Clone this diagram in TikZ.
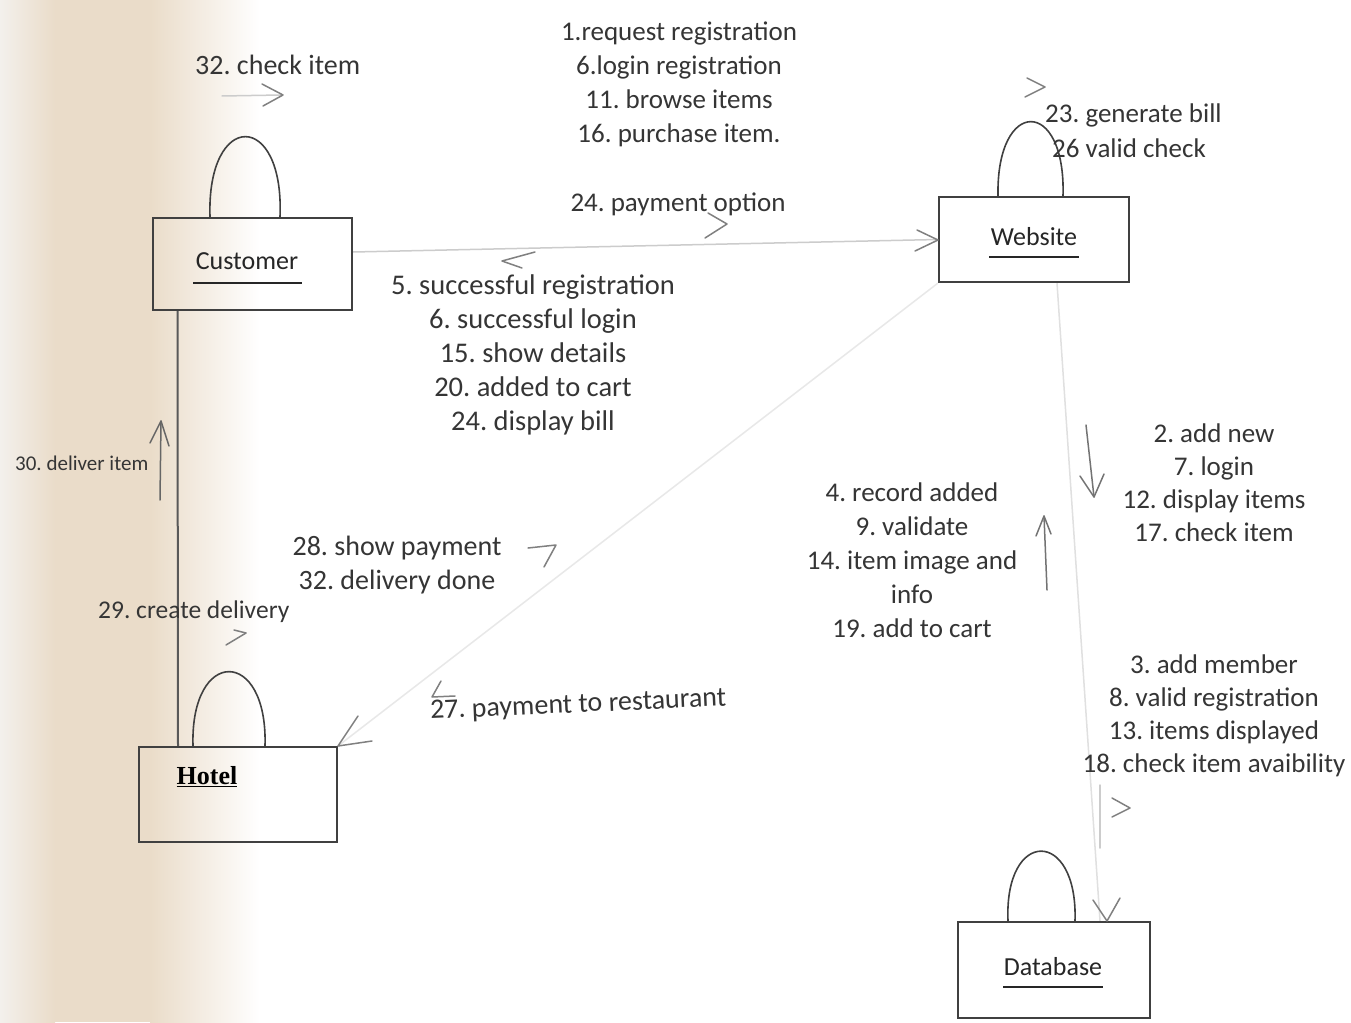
\documentclass[tikz,border=0pt]{standalone}
\usepackage{fontspec}
\setmainfont{Carlito}
\newfontfamily\hotelfont{Liberation Serif}
\usetikzlibrary{calc}
\frenchspacing
\definecolor{ink}{HTML}{353535}
\definecolor{boxline}{HTML}{404040}
\definecolor{beige}{HTML}{EADCC9}
\definecolor{paleleft}{HTML}{F3F0EC}
\begin{document}
\begin{tikzpicture}[x=1pt,y=-1pt,
  obj/.style={draw=boxline, line width=2.2pt, inner sep=0pt},
  lbl/.style={text=ink, font=\fontsize{27}{34}\selectfont, align=center, inner sep=0pt},
  namelbl/.style={text=black!85, font=\fontsize{26}{30}\selectfont, inner sep=0pt},
  selfloop/.style={draw=boxline, line width=1.6pt},
  faint/.style={draw=black!12, line width=1.5pt},
  darkline/.style={draw=black!65, line width=2pt},
  tipline/.style={draw=black!50, line width=1.5pt, line cap=round, line join=round},
  uline/.style={draw=black!85, line width=2.6pt}
]
\useasboundingbox (0,0) rectangle (1351,1022);
\fill[white] (0,0) rectangle (1351,1022);
\shade[left color=paleleft, right color=beige] (0,0) rectangle (55,1022);
\fill[beige] (55,0) rectangle (150,1022);
\shade[left color=beige, right color=white] (150,0) rectangle (260,1022);

% objects
\node[obj, minimum width=199pt, minimum height=92pt] (customer) at (252.5,264) {};
\node[obj, minimum width=190pt, minimum height=85pt] (website) at (1034,239.5) {};
\node[obj, minimum width=198pt, minimum height=95pt] (hotel) at (238,794.5) {};
\node[obj, minimum width=192pt, minimum height=96pt] (database) at (1054,970) {};

\node[namelbl] (customername) at (247,261) {Customer};
\draw[uline] (193,283) -- (302,283);
\node[namelbl] (websitename) at (1034,237) {Website};
\draw[uline] (989,257) -- (1079,257);
\node[namelbl] (databasename) at (1053,967) {Database};
\draw[uline, line width=2pt] (1003,987) -- (1103,987);
\node[text=black, font=\hotelfont\bfseries\fontsize{26}{30}\selectfont, inner sep=0pt] (hotelname) at (207,777) {\underline{Hotel}};

% connectors
\draw[faint, draw=black!20] ([yshift=12pt]customer.east) -- (website.west);
\draw[faint, draw=black!9] (hotel.north east) -- (website.south west);
\draw[faint] ([xshift=23pt]website.south) -- ([xshift=46pt]database.north);
\draw[darkline] ([xshift=-75pt]customer.south) -- ([xshift=-60pt]hotel.north);

% self loops
\draw[selfloop] ([xshift=-42.5pt]customer.north) .. controls ([xshift=-46pt,yshift=107pt]customer.north) and ([xshift=32pt,yshift=107pt]customer.north) .. ([xshift=27.5pt]customer.north);
\draw[selfloop] ([xshift=-36pt]website.north) .. controls ([xshift=-38pt,yshift=99pt]website.north) and ([xshift=32pt,yshift=99pt]website.north) .. ([xshift=29pt]website.north);
\draw[selfloop] ([xshift=-45pt]hotel.north) .. controls ([xshift=-48pt,yshift=99pt]hotel.north) and ([xshift=30pt,yshift=99pt]hotel.north) .. ([xshift=27pt]hotel.north);
\draw[selfloop] ([xshift=-46pt]database.north) .. controls ([xshift=-50pt,yshift=93pt]database.north) and ([xshift=24pt,yshift=93pt]database.north) .. ([xshift=21pt]database.north);

% message labels
\node[lbl] (m1) at (679,84) {1.request registration\\6.login registration\\11. browse items\\16. purchase item.};
\node[lbl] (m24) at (678,204) {24. payment option};
\node[lbl, font=\fontsize{28.5}{34}\selectfont] (m5) at (533,355) {5. successful registration\\6. successful login\\15. show details\\20. added to cart\\24. display bill};
\node[lbl] (m4) at (912,560) {4. record added\\9. validate\\14. item image and\\info\\19. add to cart};
\node[lbl, font=\fontsize{27}{33}\selectfont] (m2) at (1214,483) {2. add new\\7. login\\12. display items\\17. check item};
\node[lbl, font=\fontsize{27}{33}\selectfont] (m3) at (1214,716) {3. add member\\8. valid registration\\13. items displayed\\18. check item avaibility};
\node[lbl, font=\fontsize{28}{34}\selectfont] (m28) at (397,565) {28. show payment\\32. delivery done};
\node[lbl, anchor=west, rotate=2.5, font=\fontsize{28}{34}\selectfont] (m27) at (430,712) {27. payment to restaurant};
\node[lbl, anchor=west] (m23) at (1045,115) {23. generate bill};
\node[lbl, anchor=west] (m26) at (1052,148) {26 valid check};
\node[lbl, anchor=west, font=\fontsize{28}{34}\selectfont] (m32) at (195,65) {32. check item};
\node[lbl, anchor=west, font=\fontsize{21}{25}\selectfont] (m30) at (15,463) {30. deliver item};
\node[lbl, anchor=west, font=\fontsize{25.5}{30}\selectfont] (m29) at (98,612) {29. create delivery};

% arrow marks
\draw[tipline, draw=black!20] (222,96) -- (281,95);
\draw[tipline] (262,84) -- (283,95) -- (263,106);
\draw[tipline] (1027,78) -- (1045,87) -- (1025,97);
\draw[tipline] (708,213) -- (727,224) -- (705,238);
\draw[tipline] (917,230) -- (938,240) -- (915,251);
\draw[tipline] (535,252) -- (502,261) -- (522,268);
\draw[tipline, draw=black!60] (160,500) -- (161,421);
\draw[tipline, draw=black!60] (150,443) -- (161,421) -- (169,446);
\draw[tipline] (226,645) -- (246,633);
\draw[tipline] (234,630) -- (246,633);
\draw[tipline] (372,741) -- (338,746) -- (358,716);
\draw[tipline] (441,681) -- (432,697) -- (455,696);
\draw[tipline] (528,548) -- (556,545) -- (544,567);
\draw[tipline, draw=black!55] (1086,425) -- (1094,497);
\draw[tipline, draw=black!55] (1080,476) -- (1094,497) -- (1104,474);
\draw[tipline, draw=black!55] (1047,590) -- (1044,516);
\draw[tipline, draw=black!55] (1036,536) -- (1044,516) -- (1051,534);
\draw[tipline, draw=black!20] (1100,785) -- (1100,848);
\draw[tipline] (1112,798) -- (1130,808) -- (1112,817);
\draw[tipline] (1093,900) -- (1107,921) -- (1120,898);
\end{tikzpicture}
\end{document}
